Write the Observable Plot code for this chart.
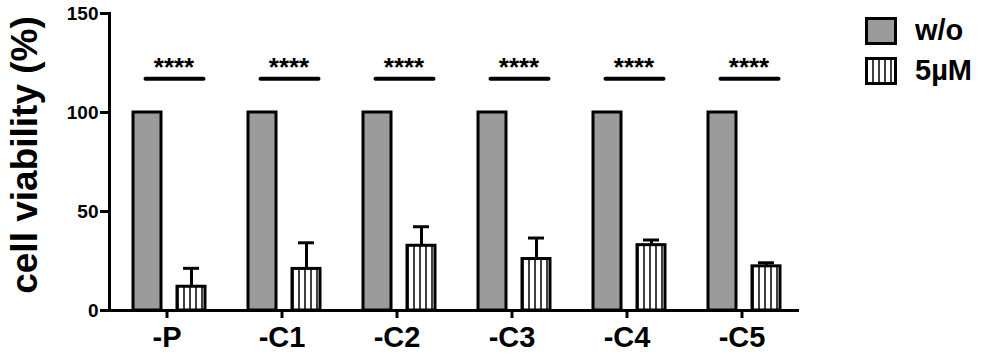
<!DOCTYPE html>
<html>
<head>
<meta charset="utf-8">
<script src="https://cdn.jsdelivr.net/npm/d3@7"></script>
<script src="https://cdn.jsdelivr.net/npm/@observablehq/plot@0.6"></script>
<style>
  body { margin: 0; background: #fff; font-family: "Liberation Sans", Arial, sans-serif; }
  #wrap { position: relative; width: 981px; height: 356px; overflow: hidden; }
  #ylabel { position: absolute; left: 24px; top: 155px; transform: translate(-50%, -50%) rotate(-90deg);
            font-size: 37px; font-weight: bold; line-height: 1; white-space: nowrap; color: #000; }
  .leg { position: absolute; font-size: 29px; font-weight: bold; line-height: 1; color: #000; }
  .sw { position: absolute; }
  g[aria-label="y-axis tick label"] text, g[aria-label="y-axis tick label"] { font-weight: bold; }
  g[aria-label="fx-axis tick label"] text, g[aria-label="fx-axis tick label"] { font-weight: bold; }
</style>
</head>
<body>
<div id="wrap"></div>
<script>
// ---- data ----
const categories = ["-P", "-C1", "-C2", "-C3", "-C4", "-C5"];
const series = ["w/o", "5µM"];
const controlValues = [100, 100, 100, 100, 100, 100];
const treatedValues = [12, 21, 32.7, 26, 33, 22.3];
const treatedErrors = [9.3, 13.2, 9.6, 10.6, 2.6, 1.8];
const significance = ["****", "****", "****", "****", "****", "****"];
const sigLevel = 117;
const yTicks = [0, 50, 100, 150];
const yLabel = "cell viability (%)";

// ---- tables ----
const control = categories.map((c, i) => ({cat: c, series: series[0], value: controlValues[i]}));
const treated = categories.map((c, i) => ({cat: c, series: series[1], value: treatedValues[i], err: treatedErrors[i]}));
const sig = categories.map((c, i) => ({cat: c, label: significance[i], y: sigLevel}));

const font = "Liberation Sans, Arial, sans-serif";

const chart = Plot.plot({
  width: 981,
  height: 356,
  marginLeft: 108,
  marginRight: 182,
  marginTop: 13,
  marginBottom: 46,
  style: {fontFamily: font, color: "black", background: "white", overflow: "visible"},
  fx: {domain: categories, padding: 0},
  x: {domain: series, paddingInner: 0.356, paddingOuter: 0.456, align: 0.57, axis: null},
  y: {domain: [0, 150]},
  marks: [
    Plot.barY(control, {fx: "cat", x: "series", y: "value", fill: "#9b9b9b", stroke: "black", strokeWidth: 3}),
    Plot.barY(treated, {fx: "cat", x: "series", y: "value", fill: "url(#hatch)", stroke: "black", strokeWidth: 3}),
    Plot.ruleX(treated, {fx: "cat", x: "series", y1: "value", y2: d => d.value + d.err, stroke: "black", strokeWidth: 3}),
    Plot.tickY(treated, {fx: "cat", x: "series", y: d => d.value + d.err, stroke: "black", strokeWidth: 3, insetLeft: 6, insetRight: 6}),
    Plot.ruleY(sig, {fx: "cat", y: "y", x1: () => series[0], x2: () => series[1], stroke: "black", strokeWidth: 4, strokeLinecap: "round", insetLeft: 12.5, insetRight: 1.5}),
    Plot.text(sig, {fx: "cat", y: "y", text: "label", lineAnchor: "bottom", dx: 7, dy: -3, fontSize: 26, fontWeight: "bold", fill: "black"}),
    Plot.ruleY([0], {stroke: "black", strokeWidth: 3}),
    Plot.frame({anchor: "left", facetAnchor: "left", stroke: "black", strokeWidth: 3}),
    Plot.axisY({ticks: yTicks, tickSize: 9, tickPadding: 2, strokeWidth: 3, fontSize: 19, fontWeight: "bold", label: null, tickFormat: d => String(d)}),
    Plot.axisFx({anchor: "bottom", tickSize: 8, tickPadding: 8, strokeWidth: 3, fontSize: 29, fontWeight: "bold", label: null})
  ]
});

// hatch pattern definition
const NS = "http://www.w3.org/2000/svg";
function makeHatch(id) {
  const defs = document.createElementNS(NS, "defs");
  const pat = document.createElementNS(NS, "pattern");
  pat.setAttribute("id", id);
  pat.setAttribute("patternUnits", "userSpaceOnUse");
  pat.setAttribute("width", "6");
  pat.setAttribute("height", "10");
  const bg = document.createElementNS(NS, "rect");
  bg.setAttribute("width", "6"); bg.setAttribute("height", "10"); bg.setAttribute("fill", "white");
  const ln = document.createElementNS(NS, "rect");
  ln.setAttribute("x", "2.2"); ln.setAttribute("width", "1.6"); ln.setAttribute("height", "10"); ln.setAttribute("fill", "#111");
  pat.appendChild(bg); pat.appendChild(ln); defs.appendChild(pat);
  return defs;
}
chart.insertBefore(makeHatch("hatch"), chart.firstChild);

// make sure axis tick labels are bold
chart.querySelectorAll('g[aria-label="y-axis tick label"], g[aria-label="fx-axis tick label"]').forEach(g => g.setAttribute("font-weight", "bold"));

const wrap = document.getElementById("wrap");
wrap.appendChild(chart);

// y axis title
const yl = document.createElement("div");
yl.id = "ylabel";
yl.textContent = yLabel;
wrap.appendChild(yl);

// legend
const swatchFills = ["#9b9b9b", "url(#hatchL)"];
const legendTops = [17, 57];
series.forEach((s, i) => {
  const sv = document.createElementNS(NS, "svg");
  sv.setAttribute("width", "34"); sv.setAttribute("height", "30");
  sv.setAttribute("class", "sw");
  sv.style.left = "864px"; sv.style.top = (legendTops[i] - 1) + "px";
  if (i === 1) sv.appendChild(makeHatch("hatchL"));
  const r = document.createElementNS(NS, "rect");
  r.setAttribute("x", "2.5"); r.setAttribute("y", "2.5"); r.setAttribute("width", "29"); r.setAttribute("height", "25");
  r.setAttribute("fill", swatchFills[i]); r.setAttribute("stroke", "black"); r.setAttribute("stroke-width", "3");
  sv.appendChild(r);
  wrap.appendChild(sv);
  const t = document.createElement("div");
  t.className = "leg";
  t.textContent = s;
  t.style.left = "915px";
  t.style.top = (legendTops[i] + 14 - 15) + "px";
  wrap.appendChild(t);
});
</script>
</body>
</html>
